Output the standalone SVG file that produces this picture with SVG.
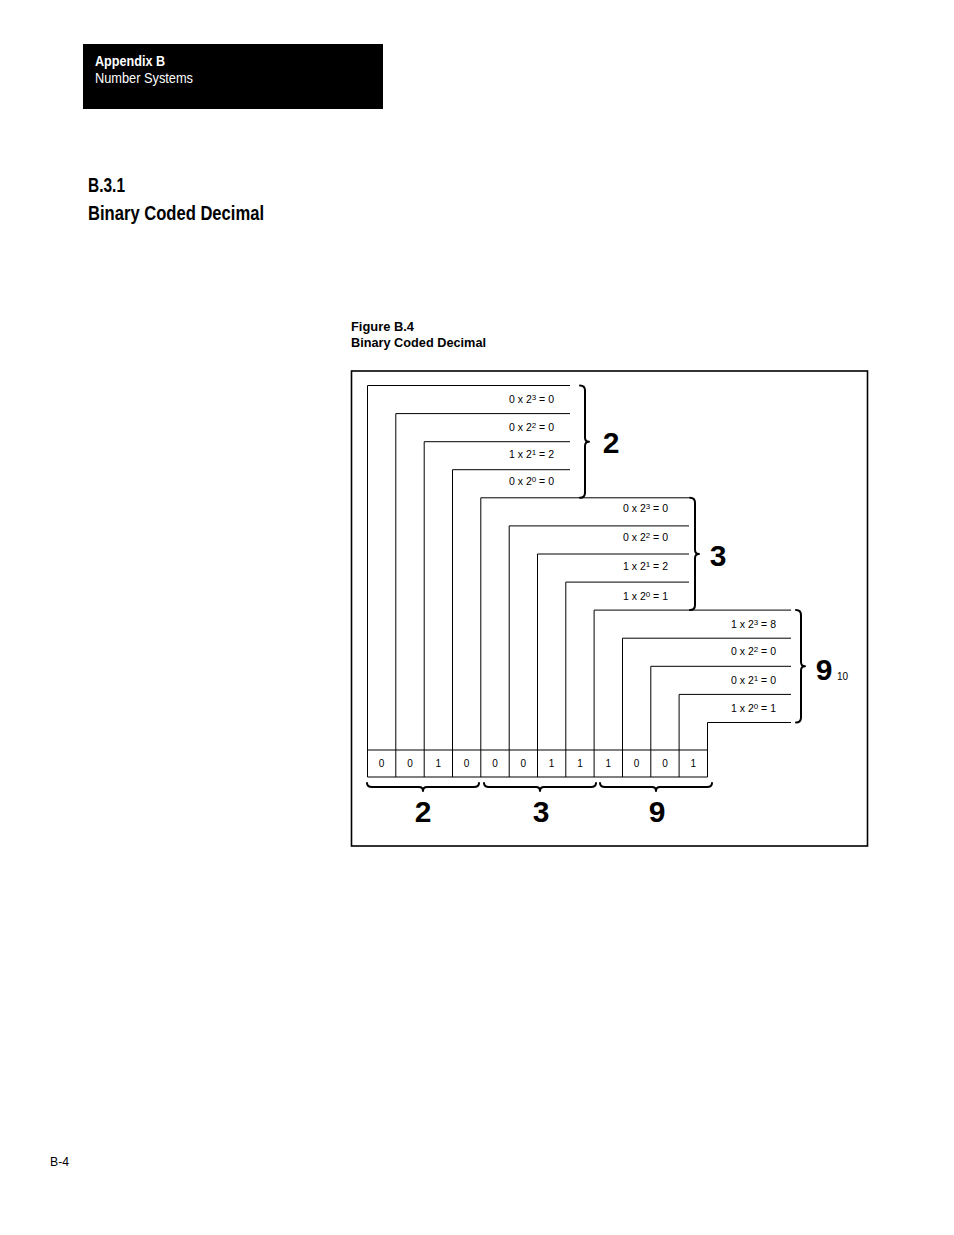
<svg xmlns="http://www.w3.org/2000/svg" width="954" height="1235" viewBox="0 0 954 1235">
<style>
.hd{font-family:"Liberation Sans Narrow","Liberation Sans",Arial,sans-serif;fill:#000}
.b{font-weight:bold}
.lbl{font-family:"Liberation Sans",Arial,sans-serif;font-size:10.5px;fill:#000;text-anchor:end}
.sup{font-size:8px}
.cell{font-family:"Liberation Sans",Arial,sans-serif;font-size:10px;fill:#000;text-anchor:middle}
.big{font-family:"Liberation Sans",Arial,sans-serif;font-size:30px;font-weight:bold;fill:#000;text-anchor:middle}
.ln{fill:none;stroke:#000;stroke-width:1}
.br{fill:none;stroke:#000;stroke-width:2;stroke-linecap:round;stroke-linejoin:round}
</style>
<rect width="954" height="1235" fill="#fff"/>
<g id="header">
<rect x="83" y="44" width="300" height="65" fill="#000"/>
<text class="hd b" x="95" y="66" font-size="14" style="fill:#fff" textLength="70" lengthAdjust="spacingAndGlyphs">Appendix B</text>
<text class="hd" x="95" y="83" font-size="14" style="fill:#fff" textLength="98" lengthAdjust="spacingAndGlyphs">Number Systems</text>
</g>
<g id="section-title">
<text class="hd b" x="88" y="192" font-size="20" textLength="37" lengthAdjust="spacingAndGlyphs">B.3.1</text>
<text class="hd b" x="88" y="220" font-size="20" textLength="176" lengthAdjust="spacingAndGlyphs">Binary Coded Decimal</text>
</g>
<g id="caption">
<text class="hd b" x="351" y="331" font-size="13.5" textLength="63" lengthAdjust="spacingAndGlyphs">Figure B.4</text>
<text class="hd b" x="351" y="347" font-size="13.5" textLength="135" lengthAdjust="spacingAndGlyphs">Binary Coded Decimal</text>
</g>
<g id="frame">
<rect x="351.5" y="371" width="516" height="475" fill="none" stroke="#000" stroke-width="1.6"/>
</g>
<g id="connectors">
<path class="ln" d="M367.5,777 V385.5 H570"/>
<path class="ln" d="M395.8,750 V413.6 H570"/>
<path class="ln" d="M424.2,750 V441.7 H570"/>
<path class="ln" d="M452.5,750 V469.7 H570"/>
<path class="ln" d="M480.8,750 V497.8 H689"/>
<path class="ln" d="M509.2,750 V525.9 H689"/>
<path class="ln" d="M537.5,750 V554 H689"/>
<path class="ln" d="M565.8,750 V582.1 H689"/>
<path class="ln" d="M594.1,750 V610.1 H791"/>
<path class="ln" d="M622.5,750 V638.2 H791"/>
<path class="ln" d="M650.8,750 V666.3 H791"/>
<path class="ln" d="M679.1,750 V694.4 H791"/>
<path class="ln" d="M707.5,777 V722.5 H791"/>
</g>
<g id="cells">
<path class="ln" d="M367.5,750 H707.5 M367.5,777 H707.5 M395.8,750 V777 M424.2,750 V777 M452.5,750 V777 M480.8,750 V777 M509.2,750 V777 M537.5,750 V777 M565.8,750 V777 M594.1,750 V777 M622.5,750 V777 M650.8,750 V777 M679.1,750 V777"/>
<text class="cell" x="381.6" y="767">0</text>
<text class="cell" x="410" y="767">0</text>
<text class="cell" x="438.3" y="767">1</text>
<text class="cell" x="466.6" y="767">0</text>
<text class="cell" x="495" y="767">0</text>
<text class="cell" x="523.3" y="767">0</text>
<text class="cell" x="551.6" y="767">1</text>
<text class="cell" x="580" y="767">1</text>
<text class="cell" x="608.3" y="767">1</text>
<text class="cell" x="636.6" y="767">0</text>
<text class="cell" x="665" y="767">0</text>
<text class="cell" x="693.3" y="767">1</text>
</g>
<g id="group-2">
<text class="lbl" x="554" y="403">0 x 2<tspan class="sup" dy="-3.5">3</tspan><tspan dy="3.5"> = 0</tspan></text>
<text class="lbl" x="554" y="431">0 x 2<tspan class="sup" dy="-3.5">2</tspan><tspan dy="3.5"> = 0</tspan></text>
<text class="lbl" x="554" y="458">1 x 2<tspan class="sup" dy="-3.5">1</tspan><tspan dy="3.5"> = 2</tspan></text>
<text class="lbl" x="554" y="485">0 x 2<tspan class="sup" dy="-3.5">0</tspan><tspan dy="3.5"> = 0</tspan></text>
<path class="br" d="M580,385.5 Q585,385.5 585,390.5 L585,437.5 Q585,441.7 589,441.7 Q585,441.7 585,445.9 L585,492.8 Q585,497.8 580,497.8"/>
<text class="big" x="611" y="453">2</text>
</g>
<g id="group-3">
<text class="lbl" x="668" y="512">0 x 2<tspan class="sup" dy="-3.5">3</tspan><tspan dy="3.5"> = 0</tspan></text>
<text class="lbl" x="668" y="541">0 x 2<tspan class="sup" dy="-3.5">2</tspan><tspan dy="3.5"> = 0</tspan></text>
<text class="lbl" x="668" y="570">1 x 2<tspan class="sup" dy="-3.5">1</tspan><tspan dy="3.5"> = 2</tspan></text>
<text class="lbl" x="668" y="600">1 x 2<tspan class="sup" dy="-3.5">0</tspan><tspan dy="3.5"> = 1</tspan></text>
<path class="br" d="M690,497.8 Q695,497.8 695,502.8 L695,549.8 Q695,554 699,554 Q695,554 695,558.2 L695,605.1 Q695,610.1 690,610.1"/>
<text class="big" x="718" y="566">3</text>
</g>
<g id="group-9">
<text class="lbl" x="776" y="628">1 x 2<tspan class="sup" dy="-3.5">3</tspan><tspan dy="3.5"> = 8</tspan></text>
<text class="lbl" x="776" y="655">0 x 2<tspan class="sup" dy="-3.5">2</tspan><tspan dy="3.5"> = 0</tspan></text>
<text class="lbl" x="776" y="684">0 x 2<tspan class="sup" dy="-3.5">1</tspan><tspan dy="3.5"> = 0</tspan></text>
<text class="lbl" x="776" y="712">1 x 2<tspan class="sup" dy="-3.5">0</tspan><tspan dy="3.5"> = 1</tspan></text>
<path class="br" d="M796,610.1 Q801,610.1 801,615.1 L801,662 Q801,666.3 805,666.3 Q801,666.3 801,670.5 L801,717.5 Q801,722.5 796,722.5"/>
<text class="big" x="824" y="680">9</text>
<text class="lbl" x="837" y="680" style="text-anchor:start;font-size:10px">10</text>
</g>
<g id="bottom-digits">
<path class="br" d="M367,783 Q367,787 372,787 L419,787 Q423,787 423,791 Q423,787 427,787 L474,787 Q479,787 479,783"/>
<path class="br" d="M484,783 Q484,787 489,787 L536,787 Q540,787 540,791 Q540,787 544,787 L591,787 Q596,787 596,783"/>
<path class="br" d="M600,783 Q600,787 605,787 L652,787 Q656,787 656,791 Q656,787 660,787 L707,787 Q712,787 712,783"/>
<text class="big" x="423" y="822">2</text>
<text class="big" x="541" y="822">3</text>
<text class="big" x="657" y="822">9</text>
</g>
<g id="page-number">
<text class="hd" x="50" y="1166" font-size="13" textLength="19" lengthAdjust="spacingAndGlyphs">B-4</text>
</g>
</svg>
